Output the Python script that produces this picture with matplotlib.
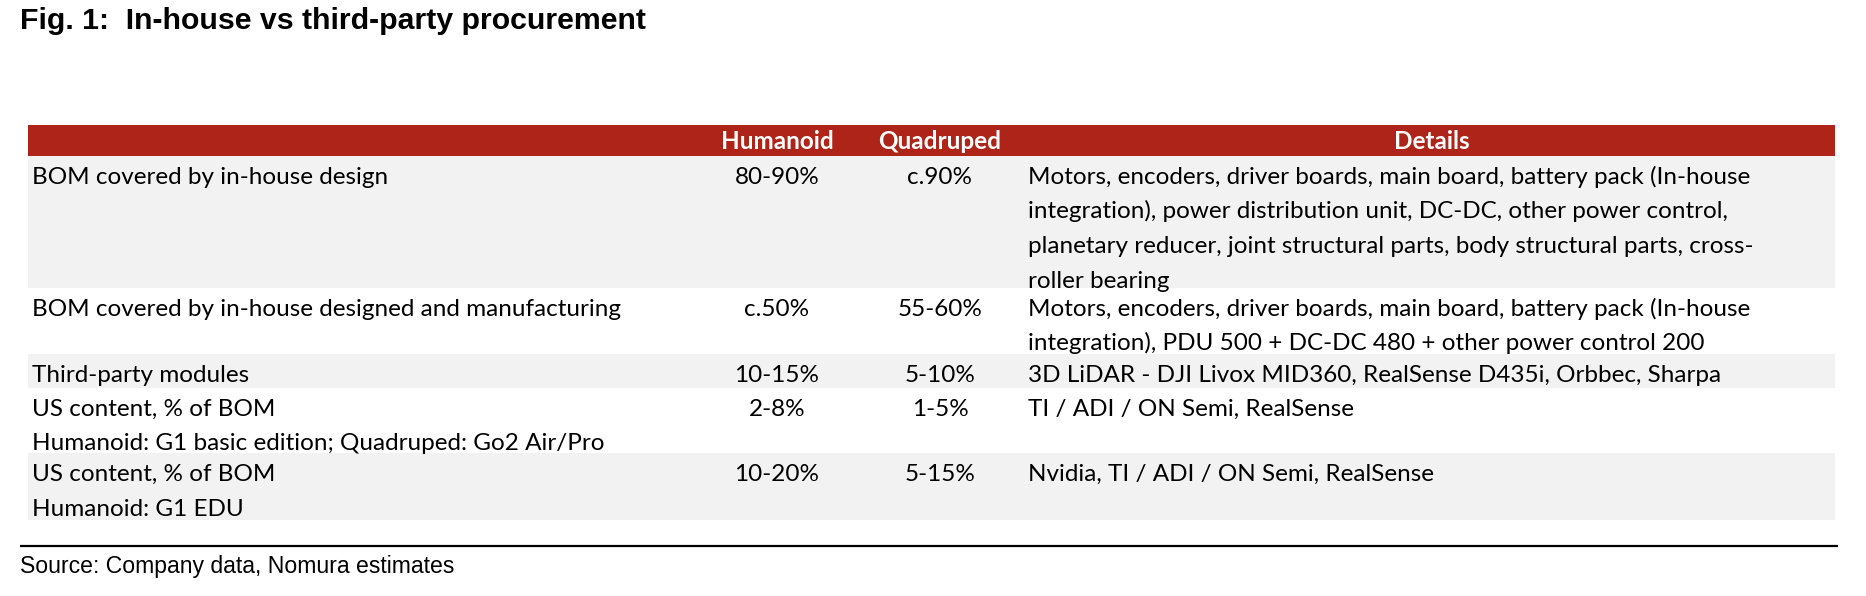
import matplotlib.pyplot as plt
from matplotlib.patches import Rectangle

# table content
title = "Fig. 1:  In-house vs third-party procurement"
source = "Source: Company data, Nomura estimates"
columns = ["Humanoid", "Quadruped", "Details"]
row_labels = [
    ["BOM covered by in-house design"],
    ["BOM covered by in-house designed and manufacturing"],
    ["Third-party modules"],
    ["US content, % of BOM", "Humanoid: G1 basic edition; Quadruped: Go2 Air/Pro"],
    ["US content, % of BOM", "Humanoid: G1 EDU"],
]
humanoid = ["80-90%", "c.50%", "10-15%", "2-8%", "10-20%"]
quadruped = ["c.90%", "55-60%", "5-10%", "1-5%", "5-15%"]
details = [
    ["Motors, encoders, driver boards, main board, battery pack (In-house",
     "integration), power distribution unit, DC-DC, other power control,",
     "planetary reducer, joint structural parts, body structural parts, cross-",
     "roller bearing"],
    ["Motors, encoders, driver boards, main board, battery pack (In-house",
     "integration), PDU 500 + DC-DC 480 + other power control 200"],
    ["3D LiDAR - DJI Livox MID360, RealSense D435i, Orbbec, Sharpa"],
    ["TI / ADI / ON Semi, RealSense"],
    ["Nvidia, TI / ADI / ON Semi, RealSense"],
]

# layout in pixels
W, H = 1866, 596
red = '#AF2419'
grey = '#F2F2F2'
left, right = 28, 1835
head_top, head_bot = 125, 156
row_edges = [156, 288, 354, 388, 453, 520]
row_grey = [True, False, True, False, True]
x_label = 32
x_hum = 777
x_quad = 940
x_det = 1028
x_det_head = 1432
pitch = 34.5
body_font = 'Lato'
body_size = 17.5

fig = plt.figure(figsize=(W / 100, H / 100), dpi=100)
ax = fig.add_axes([0, 0, 1, 1])
ax.set_xlim(0, W)
ax.set_ylim(H, 0)
ax.axis('off')

ax.text(20, 29, title, fontsize=21.8, fontweight='bold', family='Liberation Sans',
        va='baseline', ha='left')

ax.add_patch(Rectangle((left, head_top), right - left, head_bot - head_top,
                       color=red, lw=0))
for name, x in zip(columns, [x_hum, x_quad, x_det_head]):
    ax.text(x, 149, name, color='white', fontsize=17.5, fontweight='bold',
            family=body_font, ha='center', va='baseline')

for i in range(len(humanoid)):
    top, bot = row_edges[i], row_edges[i + 1]
    cell = Rectangle((left, top), right - left, bot - top,
                     color=grey if row_grey[i] else 'white', lw=0)
    ax.add_patch(cell)
    base = top + 28
    items = []
    for j, line in enumerate(row_labels[i]):
        items.append(ax.text(x_label, base + j * pitch, line, ha='left'))
    items.append(ax.text(x_hum, base, humanoid[i], ha='center'))
    items.append(ax.text(x_quad, base, quadruped[i], ha='center'))
    for j, line in enumerate(details[i]):
        items.append(ax.text(x_det, base + j * pitch, line, ha='left'))
    for t in items:
        t.set_fontsize(body_size)
        t.set_family(body_font)
        t.set_va('baseline')
        t.set_clip_path(cell)

ax.plot([20, 1838], [546, 546], color='black', lw=1.6, solid_capstyle='butt')
ax.text(20, 573, source, fontsize=16.6, family='Liberation Sans',
        va='baseline', ha='left')

fig.savefig('out.png', dpi=100)
